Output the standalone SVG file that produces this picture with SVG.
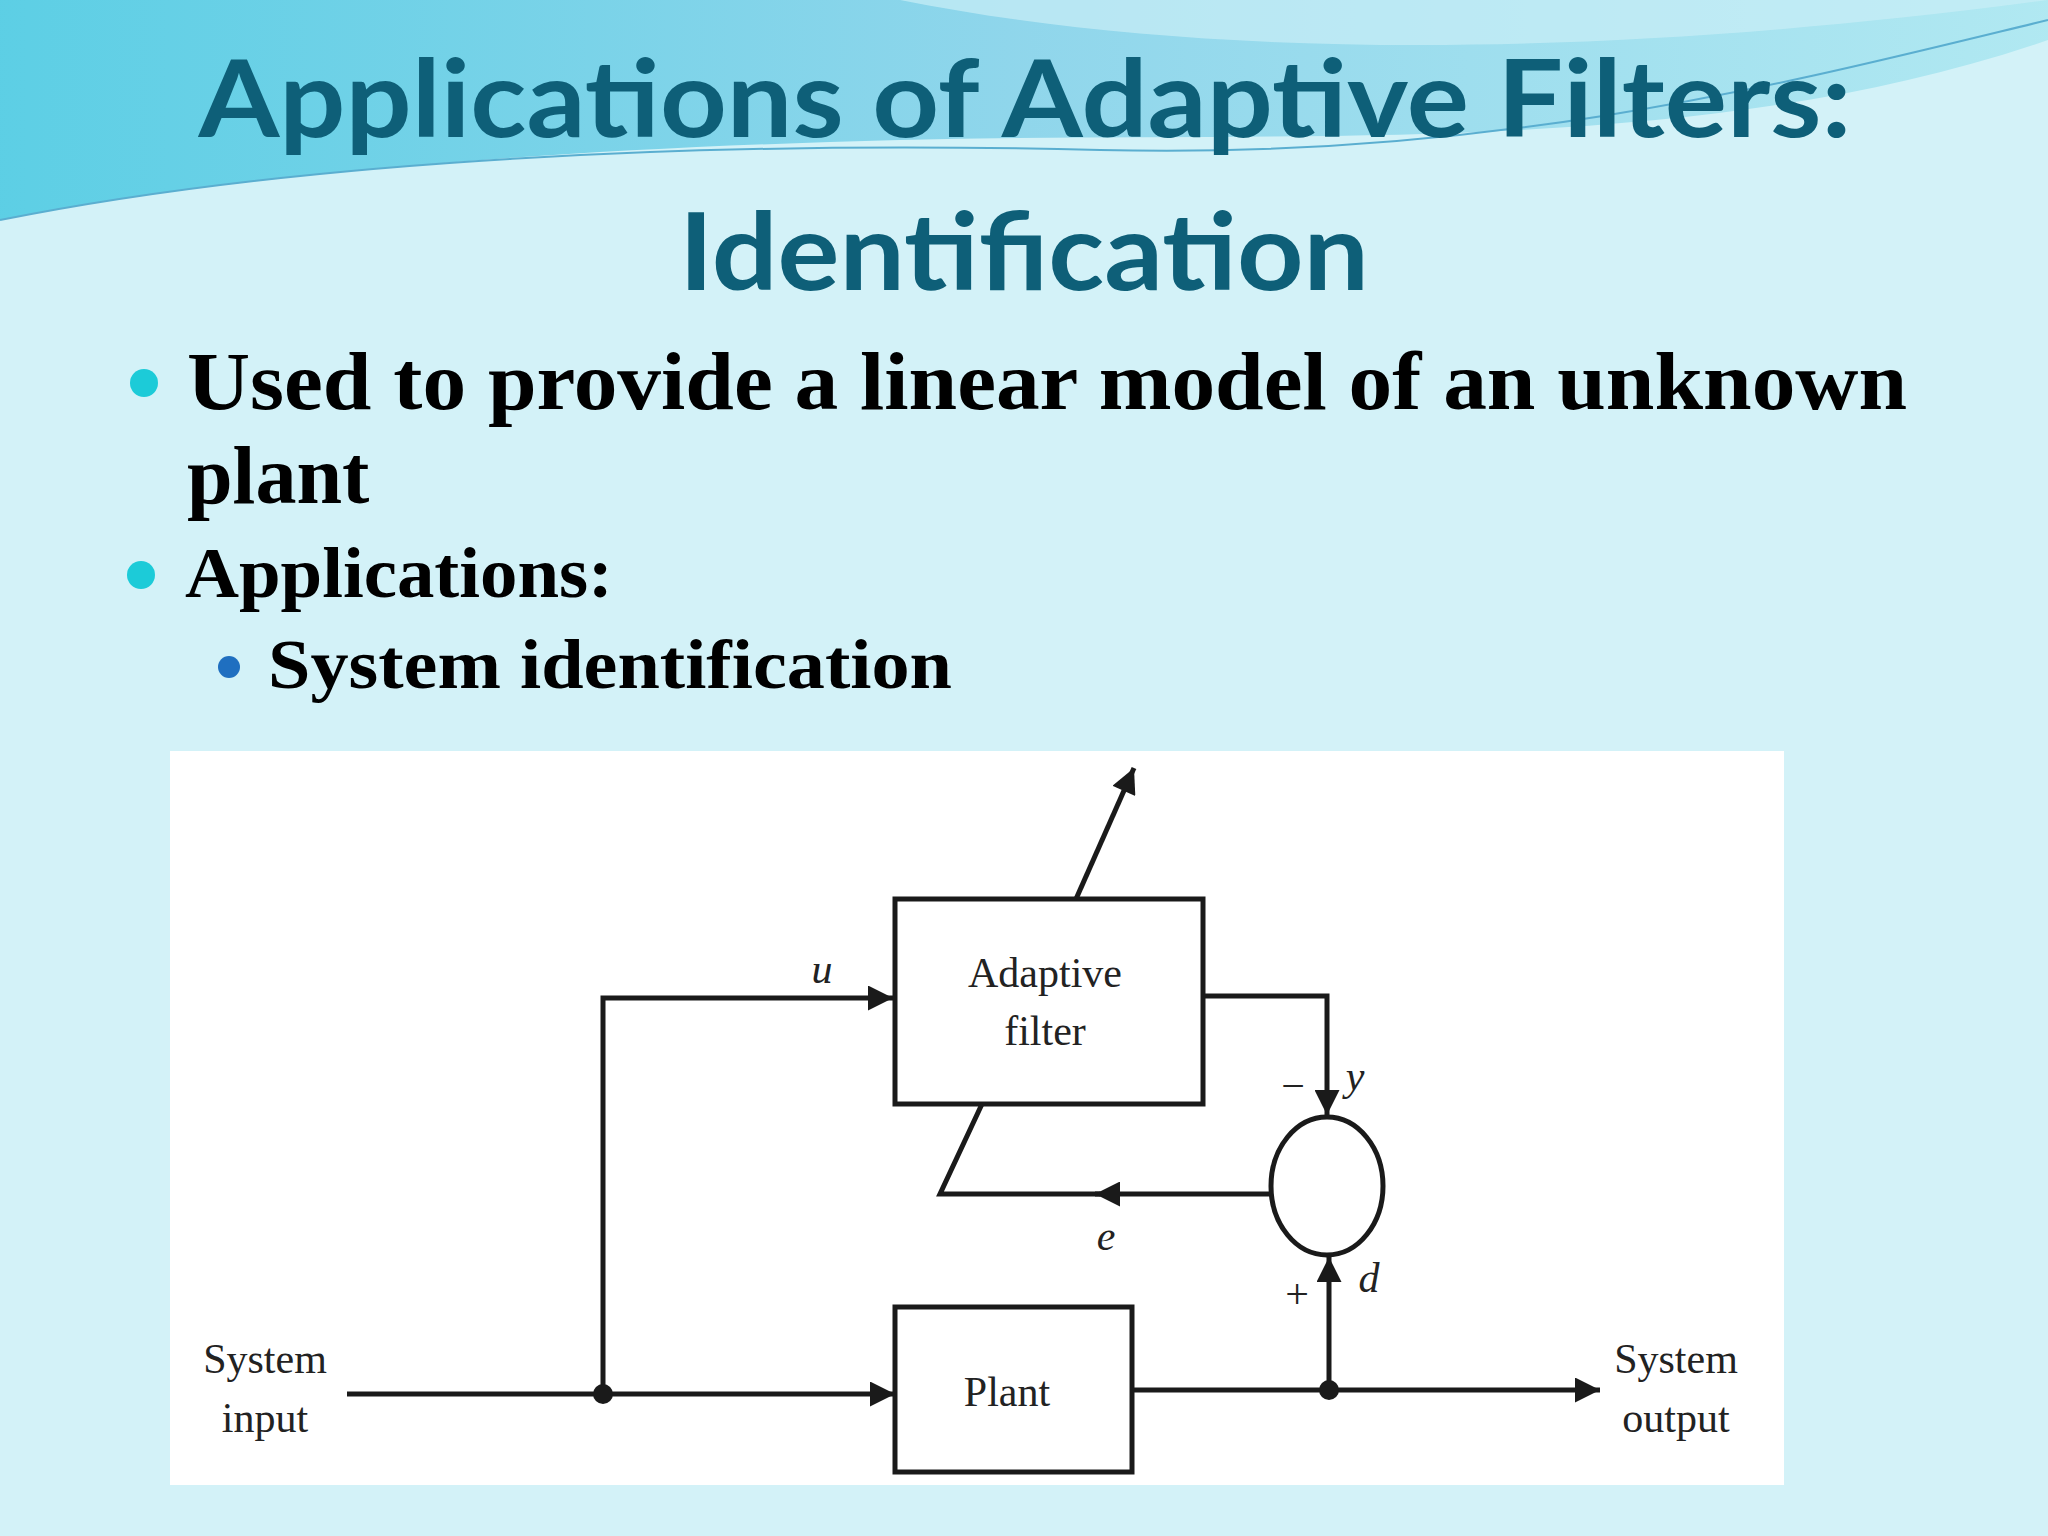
<svg xmlns="http://www.w3.org/2000/svg" width="2048" height="1536" viewBox="0 0 2048 1536">
<defs>
<style>
.t{font-family:"Lato","Open Sans",sans-serif;font-weight:bold;fill:#0e5f78;font-size:108px;text-anchor:middle}
.b{font-family:"Liberation Serif",serif;font-weight:bold;fill:#000}
.d{font-family:"Liberation Serif",serif;fill:#222;font-size:42px;text-anchor:middle}
.i{font-style:italic}
.ln{stroke:#1a1a1a;stroke-width:5;fill:none}
</style>
<marker id="ar" viewBox="0 0 10 10" refX="10" refY="5" markerWidth="7" markerHeight="5" markerUnits="strokeWidth" orient="auto"><path d="M0,0L10,5L0,10z" fill="#1a1a1a"/></marker>
<linearGradient id="w" x1="0" y1="0" x2="1" y2="0"><stop offset="0" stop-color="#3fc6e0"/><stop offset="0.5" stop-color="#7fcfe8"/><stop offset="1" stop-color="#a8e6f0"/></linearGradient>
</defs>
<rect width="2048" height="1536" fill="#d3f2f8"/>
<path d="M0,0H2048V40C1700,160 1300,130 900,140 500,150 200,180 0,220Z" fill="url(#w)" opacity="0.8"/>
<path d="M0,220C300,160 700,140 1100,150 1500,160 1800,80 2048,20" stroke="#5aaed0" stroke-width="2" fill="none"/>
<path d="M900,0C1200,60 1600,60 2048,0" fill="#c9eef6" opacity="0.7"/>
<text class="t" x="1025" y="137" textLength="1653" lengthAdjust="spacingAndGlyphs">Applications of Adaptive Filters:</text>
<text class="t" x="1024" y="290" textLength="690" lengthAdjust="spacingAndGlyphs">Identification</text>
<circle cx="144" cy="383" r="14" fill="#1ccbd8"/>
<circle cx="141" cy="575" r="14" fill="#1ccbd8"/>
<circle cx="229" cy="667" r="11" fill="#1f6fc0"/>
<text class="b" x="187" y="409" font-size="82" textLength="1720" lengthAdjust="spacingAndGlyphs">Used to provide a linear model of an unknown</text>
<text class="b" x="187" y="503" font-size="82">plant</text>
<text class="b" x="185" y="597" font-size="72" textLength="428" lengthAdjust="spacingAndGlyphs">Applications:</text>
<text class="b" x="268" y="688" font-size="70" textLength="684" lengthAdjust="spacingAndGlyphs">System identification</text>
<rect x="170" y="751" width="1614" height="734" fill="#fff"/>
<g id="adaptive"><rect x="895" y="899" width="308" height="205" class="ln" stroke-width="4"/><text class="d" x="1045" y="987">Adaptive</text><text class="d" x="1045" y="1045">filter</text></g>
<g id="plant"><rect x="895" y="1307" width="237" height="165" class="ln" stroke-width="4"/><text class="d" x="1007" y="1406">Plant</text></g>
<g id="sum"><ellipse cx="1327" cy="1186" rx="56" ry="69" class="ln" stroke-width="3"/></g>
<g id="labels">
<text class="d" x="265" y="1373">System</text><text class="d" x="265" y="1432">input</text>
<text class="d" x="1676" y="1373">System</text><text class="d" x="1676" y="1432">output</text>
<text class="d i" x="822" y="983">u</text>
<text class="d i" x="1355" y="1090">y</text>
<text class="d" x="1293" y="1100">−</text>
<text class="d i" x="1106" y="1250">e</text>
<text class="d" x="1297" y="1308">+</text>
<text class="d i" x="1369" y="1292">d</text>
</g>
<g id="connectors">
<path class="ln" d="M347,1394H895" stroke-width="7" marker-end="url(#ar)"/>
<path class="ln" d="M603,1394V998H893" marker-end="url(#ar)"/>
<path class="ln" d="M1203,996H1327V1115" marker-end="url(#ar)"/>
<path class="ln" d="M1132,1390H1600" marker-end="url(#ar)"/>
<path class="ln" d="M1329,1390V1257" marker-end="url(#ar)"/>
<path class="ln" d="M1271,1194H1095" marker-end="url(#ar)"/>
<path class="ln" d="M1100,1194H940L982,1104"/>
<path class="ln" d="M1076,899L1134,768" marker-end="url(#ar)"/>
<circle cx="603" cy="1394" r="10" fill="#1a1a1a"/>
<circle cx="1329" cy="1390" r="10" fill="#1a1a1a"/>
</g>
</svg>
